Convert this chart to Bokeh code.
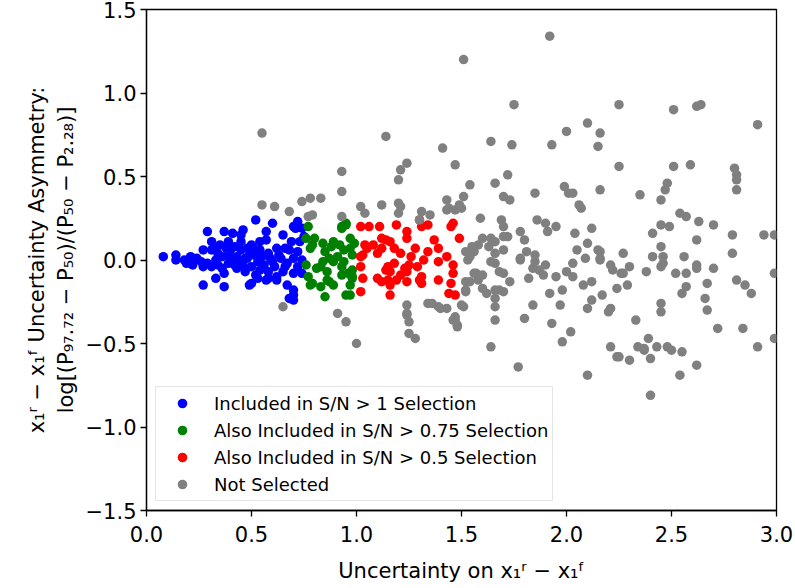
from bokeh.plotting import figure
from bokeh.models import FixedTicker, CustomJSTickFormatter
from bokeh.embed import file_html
from bokeh.resources import INLINE

# ---------------- data ----------------
blue_x = [0.08, 0.14, 0.14, 0.18, 0.21, 0.22, 0.27, 0.27, 0.29, 0.31, 0.33, 0.37, 0.37, 0.37, 0.41, 0.46,
          0.52, 0.60, 0.57, 0.65, 0.70, 0.72, 0.49, 0.50, 0.70, 0.70, 0.67, 0.62, 0.62, 0.66, 0.70, 0.67,
          0.58, 0.52, 0.43, 0.39, 0.34, 0.42, 0.45, 0.48, 0.53, 0.56, 0.51, 0.34, 0.29, 0.26, 0.31, 0.39,
          0.40, 0.47, 0.54, 0.59, 0.64, 0.72, 0.74, 0.74, 0.73, 0.69, 0.54, 0.57, 0.50, 0.36, 0.43, 0.50,
          0.54, 0.61, 0.65, 0.47, 0.42, 0.31, 0.27, 0.24, 0.38, 0.35, 0.45, 0.62, 0.58, 0.70, 0.72, 0.68,
          0.58, 0.51, 0.48, 0.39, 0.33, 0.21, 0.19, 0.71, 0.75, 0.74, 0.53, 0.57, 0.45, 0.32, 0.68, 0.70,
          0.44, 0.46, 0.55, 0.60, 0.63, 0.66, 0.41, 0.36, 0.52, 0.49]
blue_y = [0.02, 0.03, 0.00, 0.00, 0.02, -0.03, 0.06, -0.15, 0.17, 0.11, -0.11, -0.16, -0.08, 0.17, 0.16, 0.18,
          0.24, 0.22, 0.17, 0.15, 0.20, 0.23, -0.15, -0.14, -0.21, -0.24, -0.15, -0.12, 0.07, 0.07, 0.01, -0.02,
          -0.07, -0.09, -0.05, -0.02, 0.04, 0.08, 0.06, 0.01, -0.01, -0.03, 0.07, -0.03, -0.02, -0.01, 0.06, 0.11,
          0.06, 0.01, 0.06, 0.01, 0.01, 0.05, 0.00, -0.08, 0.11, 0.11, 0.11, 0.12, 0.09, 0.02, 0.02, -0.04,
          -0.06, -0.04, -0.07, -0.07, -0.03, -0.04, -0.04, 0.01, 0.07, 0.09, 0.11, -0.10, -0.11, -0.08, -0.04, 0.06,
          0.04, 0.03, 0.07, 0.03, 0.00, -0.02, -0.02, 0.19, 0.14, 0.19, -0.11, -0.12, 0.15, 0.07, -0.23, -0.18,
          -0.01, -0.03, 0.02, -0.01, 0.03, -0.04, 0.00, -0.05, 0.04, 0.03]

green_x = [0.77, 0.76, 0.79, 0.78, 0.76, 0.77, 0.79, 0.83, 0.85, 0.87, 0.89, 0.84, 0.85, 0.88, 0.89, 0.92,
           0.93, 0.95, 0.97, 0.94, 0.97, 0.98, 0.99, 0.91, 0.87, 0.84, 0.83, 0.86, 0.93, 0.93, 0.98, 0.98,
           0.97, 0.97, 0.95, 0.81, 0.80, 0.89, 0.94, 0.96, 0.95, 0.93, 0.98, 0.86, 0.78]
green_y = [0.20, 0.13, 0.09, 0.07, -0.03, -0.10, -0.14, -0.16, -0.22, -0.13, -0.15, 0.10, 0.05, 0.08, 0.11, 0.09,
           0.20, 0.21, 0.13, 0.06, 0.07, 0.03, 0.10, 0.02, 0.01, -0.01, -0.04, -0.07, -0.04, -0.09, -0.06, -0.11,
           -0.15, -0.21, -0.21, -0.05, 0.13, -0.01, -0.01, -0.08, 0.22, 0.19, -0.10, -0.12, -0.15]

red_x = [1.02, 1.06, 1.11, 1.19, 1.30, 1.31, 1.34, 1.46, 1.45, 1.24, 1.24, 1.12, 1.14, 1.16, 1.08, 1.04,
         1.03, 1.02, 1.10, 1.12, 1.18, 1.21, 1.26, 1.28, 1.34, 1.37, 1.49, 1.43, 1.39, 1.32, 1.29, 1.25,
         1.23, 1.18, 1.15, 1.14, 1.16, 1.21, 1.24, 1.02, 1.03, 1.02, 1.12, 1.15, 1.16, 1.19, 1.24, 1.30,
         1.31, 1.31, 1.39, 1.46, 1.46, 1.45, 1.44, 1.47, 1.16, 1.10, 1.05, 1.39]
red_y = [0.20, 0.20, 0.20, 0.21, 0.24, 0.20, 0.21, 0.22, 0.20, 0.17, 0.13, 0.13, 0.12, 0.11, 0.09, 0.09,
         0.03, 0.02, 0.04, 0.07, 0.07, 0.04, 0.02, 0.07, 0.05, 0.12, 0.13, 0.02, -0.01, 0.00, -0.04, -0.03,
         -0.05, -0.02, -0.04, -0.06, -0.07, -0.09, -0.07, -0.04, -0.11, -0.19, -0.13, -0.12, -0.15, -0.12, -0.13, -0.12,
         -0.14, -0.10, -0.12, -0.03, -0.08, -0.14, -0.20, -0.21, -0.21, -0.11, 0.07, 0.07]

gray_x = [0.55, 1.14, 1.41, 1.51, 1.92, 1.75, 2.25, 2.10, 2.00, 2.16, 1.64, 1.74, 1.93, 2.15, 1.47, 2.25,
          1.72, 1.54, 1.66, 1.99, 2.01, 2.03, 2.16, 1.85, 1.70, 1.73, 1.43, 1.51, 1.43, 1.44, 1.49, 1.50,
          2.06, 2.07, 1.59, 1.69, 1.70, 1.86, 1.90, 1.91, 1.95, 1.78, 1.80, 2.04, 2.12, 2.10, 2.05, 2.15,
          1.60, 1.64, 1.66, 1.70, 1.72, 1.58, 1.56, 1.54, 1.63, 1.66, 1.70, 1.81, 1.85, 1.78, 2.09, 2.16,
          1.57, 1.60, 1.64, 1.66, 1.68, 1.70, 1.73, 1.54, 1.52, 1.60, 1.62, 1.66, 1.68, 1.66, 1.70, 1.66,
          1.66, 1.51, 1.43, 1.40, 1.47, 1.48, 1.64, 1.77, 1.78, 1.85, 1.84, 1.87, 1.90, 1.89, 1.82, 1.92,
          1.84, 1.80, 1.93, 1.98, 2.02, 2.10, 1.95, 2.00, 2.03, 1.98, 1.97, 2.03, 2.08, 2.12, 2.12, 2.10,
          2.17, 2.16, 2.16, 2.21, 2.22, 2.24, 2.21, 2.20, 2.21, 2.24, 2.26, 2.51, 2.62, 2.64, 2.91, 2.51,
          2.59, 2.80, 2.81, 2.81, 2.81, 2.35, 2.48, 2.47, 2.45, 2.54, 2.57, 2.63, 2.70, 2.45, 2.49, 2.41,
          2.62, 2.45, 2.79, 2.94, 2.99, 2.27, 2.41, 2.46, 2.56, 2.79, 2.46, 2.45, 2.30, 2.27, 2.38, 2.52,
          2.57, 2.62, 2.62, 2.70, 2.99, 2.29, 2.67, 2.81, 2.85, 2.88, 2.57, 2.55, 2.45, 2.45, 2.66, 2.67,
          2.33, 2.72, 2.84, 2.91, 2.99, 2.39, 2.34, 2.37, 2.37, 2.43, 2.48, 2.50, 2.55, 2.25, 2.30, 2.40,
          2.62, 2.54, 2.40, 0.93, 1.24, 1.21, 1.20, 0.93, 0.74, 0.78, 0.83, 0.68, 0.77, 0.79, 1.02, 1.04,
          1.12, 1.20, 1.21, 1.20, 1.31, 1.35, 1.30, 0.93, 1.47, 1.24, 1.34, 1.36, 1.39, 1.47, 0.91, 1.24,
          0.65, 1.52, 1.55, 1.53, 1.58, 1.52, 1.52, 1.50, 0.95, 1.00, 1.24, 1.25, 1.25, 1.28, 1.46, 1.48,
          0.55, 0.61, 1.56]
gray_y = [0.76, 0.74, 0.67, 1.20, 1.34, 0.93, 0.93, 0.82, 0.77, 0.76, 0.71, 0.69, 0.69, 0.68, 0.57, 0.56,
          0.51, 0.45, 0.46, 0.44, 0.40, 0.40, 0.42, 0.40, 0.38, 0.36, 0.36, 0.38, 0.30, 0.31, 0.33, 0.31,
          0.33, 0.31, 0.25, 0.24, 0.20, 0.24, 0.22, 0.17, 0.20, 0.17, 0.12, 0.16, 0.19, 0.10, 0.06, 0.06,
          0.13, 0.13, 0.11, 0.14, 0.14, 0.09, 0.05, 0.02, 0.08, 0.04, 0.06, 0.05, 0.03, 0.01, 0.01, 0.01,
          -0.08, -0.09, -0.01, -0.02, -0.07, -0.08, -0.13, -0.13, -0.19, -0.17, -0.20, -0.18, -0.18, -0.23, -0.19, -0.28,
          -0.36, -0.28, -0.29, -0.29, -0.36, -0.40, -0.52, -0.64, 0.00, -0.01, -0.05, -0.06, -0.03, -0.09, -0.11, -0.20,
          -0.27, -0.35, -0.38, -0.49, -0.43, -0.69, -0.10, -0.07, -0.10, -0.18, -0.27, -0.02, -0.15, -0.13, -0.24, -0.29,
          -0.21, 0.05, 0.00, -0.03, -0.06, -0.17, -0.29, -0.31, -0.52, -0.58, -0.08, 0.90, 0.92, 0.93, 0.81, 0.56,
          0.57, 0.55, 0.51, 0.48, 0.42, 0.39, 0.46, 0.42, 0.36, 0.28, 0.26, 0.23, 0.21, 0.21, 0.20, 0.16,
          0.12, 0.08, 0.15, 0.15, 0.15, 0.04, 0.02, 0.02, 0.02, 0.04, -0.02, -0.04, -0.04, -0.08, -0.07, -0.08,
          -0.08, -0.03, -0.05, -0.05, -0.08, -0.15, -0.14, -0.12, -0.15, -0.20, -0.16, -0.20, -0.26, -0.31, -0.23, -0.30,
          -0.36, -0.41, -0.41, -0.52, -0.47, -0.47, -0.52, -0.53, -0.54, -0.52, -0.52, -0.54, -0.55, -0.58, -0.60, -0.59,
          -0.63, -0.69, -0.81, 0.53, 0.58, 0.54, 0.48, 0.41, 0.35, 0.37, 0.37, 0.29, 0.26, 0.27, 0.32, 0.28,
          0.33, 0.34, 0.32, 0.28, 0.29, 0.27, 0.24, 0.26, 0.30, -0.27, -0.26, -0.26, -0.28, -0.34, -0.32, -0.32,
          -0.28, 0.05, 0.08, 0.00, -0.12, -0.13, -0.18, -0.27, -0.37, -0.50, -0.33, -0.37, -0.44, -0.47, -0.36, -0.39,
          0.33, 0.32, -0.08]

x_ticks = [0.0, 0.5, 1.0, 1.5, 2.0, 2.5, 3.0]
y_ticks = [-1.5, -1.0, -0.5, 0.0, 0.5, 1.0, 1.5]

labels = ["Included in S/N > 1 Selection",
          "Also Included in S/N > 0.75 Selection",
          "Also Included in S/N > 0.5 Selection",
          "Not Selected"]
colors = ["#0000ff", "#008000", "#ff0000", "#808080"]

FONT = "DejaVu Sans"

p = figure(width=795, height=588, x_range=(0, 3), y_range=(-1.5, 1.5),
           output_backend="svg", toolbar_location=None,
           min_border_left=146, min_border_right=19, min_border_top=9, min_border_bottom=78)

p.xgrid.visible = False
p.ygrid.visible = False
p.outline_line_color = "black"
p.outline_line_width = 1.3
p.outline_line_alpha = 1.0
p.background_fill_color = "white"
p.border_fill_color = "white"

series = [(blue_x, blue_y), (green_x, green_y), (red_x, red_y), (gray_x, gray_y)]
for (xs, ys), lab, col in zip(series, labels, colors):
    p.scatter(x=xs, y=ys, size=9.5, fill_color=col, line_color=None, legend_label=lab)

fmt = CustomJSTickFormatter(code="return tick.toFixed(1).replace('-', '\\u2212');")
p.xaxis.ticker = FixedTicker(ticks=x_ticks)
p.yaxis.ticker = FixedTicker(ticks=y_ticks)
for ax in (p.xaxis[0], p.yaxis[0]):
    ax.formatter = fmt
    ax.axis_line_color = "black"
    ax.axis_line_width = 1.3
    ax.major_tick_line_color = "black"
    ax.major_tick_line_width = 1.3
    ax.major_tick_out = 6
    ax.major_tick_in = 0
    ax.minor_tick_out = 0
    ax.minor_tick_in = 0
    ax.major_label_text_font = FONT
    ax.major_label_text_font_size = "21px"
    ax.major_label_text_color = "black"
    ax.axis_label_text_font = FONT
    ax.axis_label_text_font_size = "21px"
    ax.axis_label_text_font_style = "normal"
    ax.axis_label_text_color = "black"

p.xaxis.major_label_standoff = 9
p.xaxis.axis_label_standoff = 14
p.yaxis.major_label_standoff = 4
p.yaxis.axis_label_standoff = 5

p.xaxis.axis_label = "Uncertainty on x\u2081\u02b3 \u2212 x\u2081\u1da0"
p.yaxis.axis_label = ("x\u2081\u02b3 \u2212 x\u2081\u1da0 Uncertainty Asymmetry:\n"
                      "log[(P\u2089\u2087.\u2087\u2082 \u2212 P\u2085\u2080)/(P\u2085\u2080 \u2212 P\u2082.\u2082\u2088)]")

lg = p.legend[0]
lg.location = "bottom_left"
lg.margin = 9
lg.padding = 4
lg.spacing = 3
lg.glyph_width = 44
lg.glyph_height = 24
lg.label_height = 24
lg.label_standoff = 10
lg.label_text_font = FONT
lg.label_text_font_size = "18px"
lg.label_text_color = "black"
lg.border_line_color = "#cccccc"
lg.border_line_width = 1.3
lg.background_fill_color = "white"
lg.background_fill_alpha = 0.8

open("out.html", "w").write(file_html(p, INLINE))
